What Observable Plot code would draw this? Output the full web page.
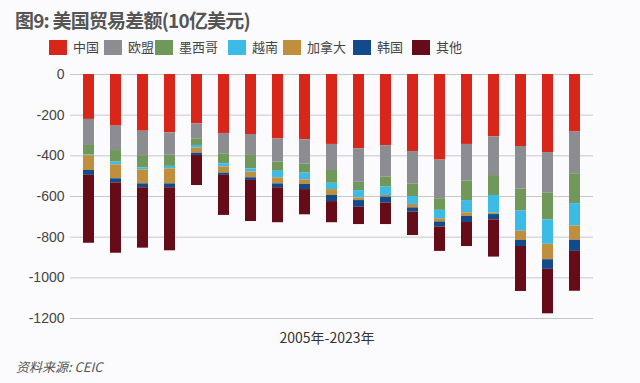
<!DOCTYPE html>
<html>
<head>
<meta charset="utf-8">
<script src="https://cdn.jsdelivr.net/npm/d3@7"></script>
<script src="https://cdn.jsdelivr.net/npm/@observablehq/plot@0.6"></script>
<style>
  html, body { margin: 0; padding: 0; background: #fbfbfd; }
  #wrap { position: relative; width: 640px; height: 383px; overflow: hidden; font-family: "Noto Sans CJK SC", "Liberation Sans", sans-serif; }
  #title { position: absolute; left: 15px; top: 6px; font-size: 19px; font-weight: bold; color: #555; letter-spacing: -0.8px; white-space: nowrap; }
  #legend { position: absolute; left: 0; top: 40px; width: 640px; height: 16px; font-size: 13px; color: #444; white-space: nowrap; }
  #legend .sw { position: absolute; top: 0; width: 18px; height: 15px; }
  #legend .tx { position: absolute; top: -2px; line-height: 18px; }
  #chart { position: absolute; left: 0; top: 60px; }
  #xlabel { position: absolute; left: 0; width: 654px; top: 327px; text-align: center; font-size: 14px; color: #333; font-family: "Noto Sans CJK SC", sans-serif; }
  #source { position: absolute; left: 16px; top: 357px; font-size: 13px; color: #555; font-style: italic; font-family: "Noto Sans CJK SC", sans-serif; }
</style>
</head>
<body>
<div id="wrap">
  <div id="title">图9: 美国贸易差额(10亿美元)</div>
  <div id="legend"></div>
  <div id="chart"></div>
  <div id="xlabel">2005年-2023年</div>
  <div id="source">资料来源: CEIC</div>
</div>
<script>
const years = ["2005","2006","2007","2008","2009","2010","2011","2012","2013","2014","2015","2016","2017","2018","2019","2020","2021","2022","2023"];
const seriesNames = ["中国","欧盟","墨西哥","越南","加拿大","韩国","其他"];
const seriesColors = ["#d9261b","#8b8d93","#70985b","#3bbbe6","#bf8f3e","#124a8c","#660c18"];
const china   = [-221,-254,-279,-287,-243,-290,-295,-317,-321,-344,-366,-350,-379,-421,-344,-307,-354,-384,-283];
const eu      = [-128,-120,-120,-110,-73,-100,-103,-114,-120,-128,-164,-155,-159,-190,-180,-190,-210,-200,-205];
const mexico  = [-47,-57,-60,-55,-33,-49,-66,-45,-44,-63,-41,-49,-62,-57,-96,-98,-108,-131,-147];
const vietnam = [-3,-13,-10,-12,-12,-16,-16,-32,-33,-31,-36,-41,-39,-41,-60,-87,-99,-120,-110];
const canada  = [-73,-69,-69,-74,-26,-30,-28,-30,-23,-29,-13,-8,-17,-16,-18,-7,-45,-76,-70];
const korea   = [-24,-20,-19,-19,-11,-11,-13,-19,-25,-30,-33,-30,-21,-25,-30,-26,-30,-47,-55];
const other   = [-334,-346,-297,-310,-148,-197,-202,-172,-124,-104,-85,-105,-115,-120,-118,-183,-221,-219,-196];
const yTicks = [0,-200,-400,-600,-800,-1000,-1200];

const seriesValues = [china, eu, mexico, vietnam, canada, korea, other];
const rows = [];
seriesNames.forEach((name, s) => {
  years.forEach((yr, i) => rows.push({year: yr, series: name, value: seriesValues[s][i]}));
});

// legend layout (pixel offsets of each swatch)
const legendX = [49, 104, 155, 228, 283, 353, 412];
const legend = document.getElementById("legend");
seriesNames.forEach((n, i) => {
  const sw = document.createElement("span");
  sw.className = "sw";
  sw.style.left = legendX[i] + "px";
  sw.style.background = seriesColors[i];
  const tx = document.createElement("span");
  tx.className = "tx";
  tx.style.left = (legendX[i] + 24) + "px";
  tx.textContent = n;
  legend.appendChild(sw);
  legend.appendChild(tx);
});

const chart = Plot.plot({
  width: 640,
  height: 290,
  marginLeft: 70,
  marginRight: 47,
  marginTop: 14,
  marginBottom: 32,
  style: {fontSize: "14px", fontFamily: "Liberation Sans, Arial, sans-serif", color: "#444", background: "transparent"},
  x: {domain: years, paddingInner: 0.6, paddingOuter: 0.45, axis: null},
  y: {domain: [-1200, 0], ticks: yTicks, label: null},
  color: {domain: seriesNames, range: seriesColors},
  marks: [
    Plot.gridY(yTicks, {stroke: "#c8c8cc", strokeOpacity: 1, strokeWidth: 1}),
    Plot.axisY(yTicks, {tickSize: 0, tickPadding: 6, label: null, fill: "#444", tickFormat: d => String(d)}),
    Plot.barY(rows, {x: "year", y: "value", fill: "series", order: seriesNames})
  ]
});
document.getElementById("chart").appendChild(chart);
</script>
</body>
</html>
